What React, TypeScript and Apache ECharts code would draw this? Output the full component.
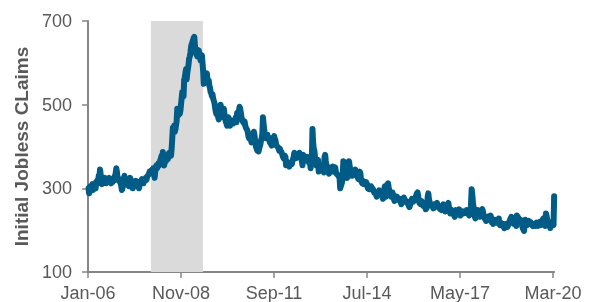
import React, { useEffect, useRef } from "react";
import * as echarts from "echarts";

// Weekly initial jobless claims (thousands), week ending Saturday, first week ending 2006-01-07
const FIRST_WEEK = "2006-01-07";
const claims2006 = [300, 288, 292, 305, 298, 300, 310, 296, 302, 308, 305, 300, 315, 310, 320, 312, 330, 325, 345, 335, 318, 310, 316, 318, 322, 315, 325, 318, 312, 320, 322, 318, 315, 325, 320, 316, 312, 318, 315, 322, 318, 325, 330, 335, 348, 340, 325, 320, 318, 322, 315, 312];
const claims2007 = [305, 296, 300, 315, 318, 330, 322, 312, 318, 312, 308, 310, 305, 318, 325, 320, 312, 308, 300, 305, 310, 312, 315, 318, 310, 312, 305, 308, 300, 310, 315, 318, 320, 322, 318, 312, 316, 322, 318, 325, 320, 328, 330, 332, 335, 340, 336, 338, 342, 345, 340, 348];
const claims2008 = [335, 325, 340, 352, 355, 348, 352, 360, 355, 358, 368, 372, 378, 365, 387, 360, 355, 362, 368, 365, 372, 378, 370, 382, 385, 380, 385, 378, 395, 420, 445, 440, 450, 435, 440, 450, 460, 490, 480, 475, 480, 478, 485, 500, 515, 530, 525, 520, 560, 565, 575, 585];
const claims2009 = [560, 575, 585, 595, 610, 615, 625, 640, 645, 650, 655, 660, 662, 640, 628, 620, 632, 615, 625, 630, 620, 612, 605, 610, 618, 600, 580, 550, 560, 575, 565, 570, 575, 560, 555, 558, 545, 540, 530, 528, 520, 525, 515, 510, 505, 495, 485, 478, 480, 485, 470, 465];
const claims2010 = [470, 480, 500, 485, 475, 480, 470, 490, 475, 465, 460, 455, 450, 455, 470, 465, 455, 450, 460, 455, 462, 458, 455, 460, 462, 465, 470, 458, 480, 475, 480, 485, 495, 490, 480, 470, 465, 460, 458, 455, 460, 450, 445, 445, 440, 435, 425, 420, 425, 420, 415, 410];
const claims2011 = [415, 430, 420, 435, 425, 410, 400, 395, 390, 392, 388, 395, 400, 405, 415, 420, 430, 470, 455, 440, 430, 425, 420, 425, 428, 420, 418, 415, 410, 420, 405, 402, 410, 415, 420, 425, 418, 415, 405, 402, 400, 398, 395, 390, 395, 390, 388, 385, 380, 375, 372, 370, 378];
const claims2012 = [375, 355, 365, 360, 358, 355, 352, 356, 360, 362, 358, 365, 370, 375, 385, 380, 378, 372, 375, 378, 380, 382, 385, 378, 375, 372, 365, 355, 380, 368, 365, 370, 372, 375, 372, 375, 370, 362, 365, 360, 348, 375, 370, 442, 410, 395, 390, 375, 360, 355, 365, 360];
const claims2013 = [368, 340, 345, 352, 355, 348, 350, 345, 342, 338, 375, 380, 365, 355, 350, 345, 340, 335, 350, 345, 340, 345, 348, 352, 345, 340, 345, 350, 340, 335, 335, 332, 330, 328, 325, 300, 305, 310, 315, 335, 365, 362, 345, 340, 335, 330, 325, 330, 350, 365, 355, 345];
const claims2014 = [340, 335, 330, 342, 338, 335, 340, 345, 335, 330, 328, 325, 322, 330, 340, 335, 320, 315, 312, 318, 315, 310, 312, 310, 315, 312, 305, 300, 302, 298, 300, 298, 305, 302, 300, 298, 295, 290, 292, 288, 285, 280, 285, 288, 290, 295, 292, 290, 288, 285, 280, 275];
const claims2015 = [290, 295, 305, 290, 280, 295, 310, 312, 300, 295, 290, 285, 280, 282, 290, 285, 275, 270, 272, 275, 278, 280, 278, 275, 272, 275, 272, 268, 262, 270, 272, 275, 278, 275, 272, 270, 268, 265, 268, 262, 258, 255, 260, 265, 270, 275, 272, 268, 270, 272, 275, 280];
const claims2016 = [280, 288, 290, 282, 270, 265, 268, 262, 270, 265, 260, 258, 262, 260, 255, 250, 252, 258, 280, 288, 275, 268, 265, 260, 258, 262, 255, 252, 258, 262, 260, 258, 262, 265, 260, 255, 258, 252, 250, 250, 248, 255, 258, 262, 258, 250, 245, 252, 258, 255, 262, 265, 255];
const claims2017 = [245, 240, 250, 248, 242, 240, 245, 235, 232, 240, 248, 245, 242, 238, 245, 250, 240, 235, 238, 240, 242, 245, 240, 242, 245, 245, 242, 248, 240, 242, 238, 235, 240, 238, 265, 298, 285, 265, 255, 245, 232, 228, 235, 238, 242, 248, 240, 238, 232, 240, 245, 248];
const claims2018 = [250, 245, 235, 230, 228, 225, 222, 225, 230, 232, 228, 225, 230, 235, 225, 218, 220, 215, 220, 225, 222, 222, 220, 218, 225, 220, 228, 215, 212, 218, 215, 212, 210, 215, 210, 205, 208, 212, 215, 210, 208, 212, 215, 220, 225, 228, 232, 230, 225, 222, 215, 220];
const claims2019 = [225, 215, 210, 235, 235, 230, 225, 220, 225, 222, 215, 212, 205, 202, 198, 210, 225, 218, 215, 212, 215, 218, 222, 218, 220, 218, 215, 212, 210, 215, 212, 215, 210, 215, 218, 215, 210, 212, 218, 220, 215, 212, 215, 218, 225, 228, 220, 215, 210, 240, 235, 225];
const claims2020 = [215, 212, 218, 215, 205, 210, 212, 220, 218, 212, 281];

// Recession shading (Dec 2007 – Jun 2009)
const recessionStart = "2007-12";
const recessionEnd = "2009-06";

// X-axis tick labels (every 34 months from Jan-06)
const xTickLabels = ["Jan-06", "Nov-08", "Sep-11", "Jul-14", "May-17", "Mar-20"];
const xTickMonths = [0, 34, 68, 102, 136, 170];

const allClaims = [
  ...claims2006, ...claims2007, ...claims2008, ...claims2009, ...claims2010,
  ...claims2011, ...claims2012, ...claims2013, ...claims2014, ...claims2015,
  ...claims2016, ...claims2017, ...claims2018, ...claims2019, ...claims2020,
];

function monthIndex(d: Date): number {
  const y = d.getUTCFullYear();
  const m = d.getUTCMonth();
  const dim = new Date(Date.UTC(y, m + 1, 0)).getUTCDate();
  return (y - 2006) * 12 + m + (d.getUTCDate() - 1) / dim;
}
function ymToIndex(s: string, end: boolean): number {
  const [y, m] = s.split("-").map(Number);
  return (y - 2006) * 12 + (m - 1) + (end ? 1 : 0);
}

export default function App() {
  const ref = useRef<HTMLDivElement>(null);
  useEffect(() => {
    if (!ref.current) return;
    const chart = echarts.init(ref.current, null, { renderer: "svg" });
    const start = new Date(FIRST_WEEK + "T00:00:00Z").getTime();
    const data = allClaims.map((v, i) => [monthIndex(new Date(start + i * 7 * 86400000)), v]);
    const lastX = data[data.length - 1][0] as number;
    const font = "'Liberation Sans', Arial, sans-serif";
    const axisColor = "#868686";
    chart.setOption({
      animation: false,
      grid: { left: 88, right: 598 - 88 - (465 / 170) * lastX, top: 21, bottom: 30 },
      xAxis: {
        type: "value",
        min: 0,
        max: lastX,
        splitLine: { show: false },
        axisLine: { show: true, lineStyle: { color: axisColor, width: 2 } },
        axisTick: { show: true, length: 6, customValues: xTickMonths, lineStyle: { color: axisColor, width: 1.5 } },
        axisLabel: {
          customValues: xTickMonths,
          margin: 12,
          color: "#595959",
          fontSize: 18,
          fontFamily: font,
          formatter: (v: number) => {
            const i = xTickMonths.indexOf(Math.round(v));
            return i >= 0 ? xTickLabels[i] : "";
          },
        },
      },
      yAxis: {
        type: "value",
        min: 100,
        max: 700,
        interval: 200,
        name: "Initial Jobless CLaims",
        nameLocation: "middle",
        nameGap: 51,
        nameTextStyle: { color: "#595959", fontSize: 19, fontWeight: "bold", fontFamily: font },
        splitLine: { show: false },
        axisLine: { show: true, lineStyle: { color: axisColor, width: 2 } },
        axisTick: { show: true, length: 6, lineStyle: { color: axisColor, width: 1.5 } },
        axisLabel: { margin: 16, color: "#595959", fontSize: 18, fontFamily: font },
      },
      series: [
        {
          type: "line",
          data,
          showSymbol: false,
          symbol: "none",
          lineStyle: { color: "#005b86", width: 6, join: "round", cap: "round" },
          z: 3,
          markArea: {
            silent: true,
            itemStyle: { color: "#dadada" },
            data: [[{ xAxis: ymToIndex(recessionStart, false) }, { xAxis: ymToIndex(recessionEnd, true) }]],
          },
        },
      ],
    });
    return () => chart.dispose();
  }, []);
  return <div ref={ref} style={{ position: "fixed", left: 0, top: 0, width: 598, height: 302 }} />;
}
